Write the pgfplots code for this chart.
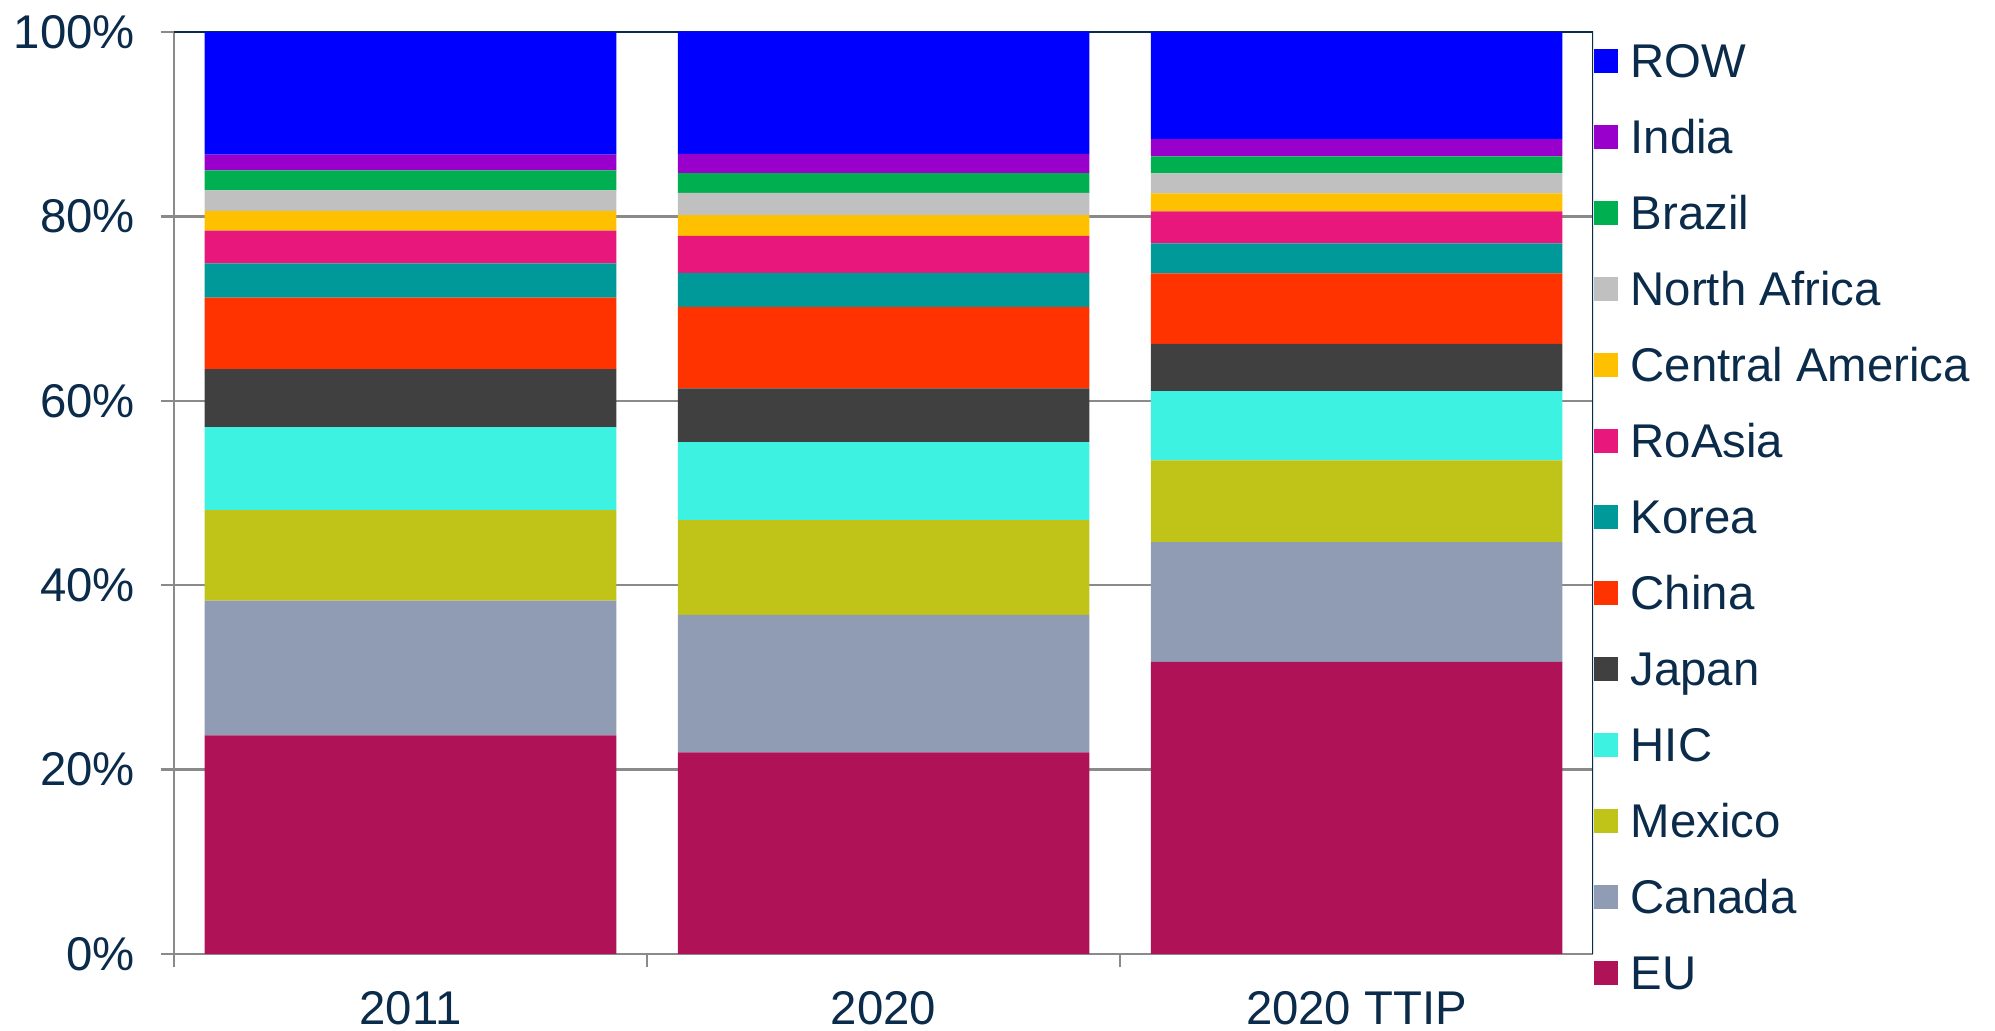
\documentclass[border=0pt]{standalone}
\usepackage{fontspec}
\setmainfont{Liberation Sans}
\usepackage{pgfplots}
\pgfplotsset{compat=1.18}
\definecolor{navy}{HTML}{0B2B4B}
\definecolor{axgray}{HTML}{8A8A8A}
\definecolor{cEU}{HTML}{B01258}
\definecolor{cCanada}{HTML}{8F9CB3}
\definecolor{cMexico}{HTML}{C0C418}
\definecolor{cHIC}{HTML}{3DF2E0}
\definecolor{cJapan}{HTML}{404040}
\definecolor{cChina}{HTML}{FF3300}
\definecolor{cKorea}{HTML}{009999}
\definecolor{cRoAsia}{HTML}{E8177C}
\definecolor{cCA}{HTML}{FFC000}
\definecolor{cNA}{HTML}{C0C0C0}
\definecolor{cBrazil}{HTML}{00B050}
\definecolor{cIndia}{HTML}{9900CC}
\definecolor{cROW}{HTML}{0000FF}
\begin{document}
\begin{tikzpicture}
\path[use as bounding box] (0,0) rectangle (598.5pt,309.3pt);
\begin{axis}[
  axis on top=false,
  at={(52.2pt,23.1pt)}, anchor=south west,
  scale only axis, width=425.7pt, height=276.6pt,
  ybar stacked, bar width=0.87,
  xmin=-0.5, xmax=2.5, ymin=0, ymax=100,
  xtick={0,1,2}, xticklabels={2011,2020,2020 TTIP},
  minor xtick={-0.5,0.5,1.5},
  major x tick style={draw=none},
  ytick={0,20,40,60,80,100},
  yticklabels={0\%,20\%,40\%,60\%,80\%,100\%},
  axis lines=left, axis line style={-, draw=axgray, line width=0.7pt},
  tick align=outside, major tick length=4pt, minor tick length=4pt,
  tick style={draw=axgray, line width=0.7pt},
  ymajorgrids, grid style={draw=axgray, line width=0.7pt},
  ticklabel style={font=\fontsize{14.2}{17}\selectfont, text=navy},
  yticklabel style={xshift=-4.2pt},
  xticklabel style={yshift=-3.6pt},
  legend style={at={(1,1)}, anchor=north west, yshift=-3.3pt, draw=none, fill=none,
    inner sep=0pt, font=\fontsize{14.2}{17}\selectfont, text=navy,
    column sep=3.9pt, row sep=9.8pt,
    nodes={inner sep=0pt, text height=10.2pt, text depth=2.8pt}},
  legend cell align=left, reverse legend,
  legend image code/.code={\fill[#1, draw=none] (0pt,-2.2pt) rectangle (7.2pt,5.0pt);},
]
\addplot[fill=cEU, draw=none] coordinates {(0,23.71) (1,21.86) (2,31.67)};
\addplot[fill=cCanada, draw=none] coordinates {(0,14.62) (1,14.91) (2,12.99)};
\addplot[fill=cMexico, draw=none] coordinates {(0,9.81) (1,10.28) (2,8.88)};
\addplot[fill=cHIC, draw=none] coordinates {(0,9.01) (1,8.47) (2,7.51)};
\addplot[fill=cJapan, draw=none] coordinates {(0,6.28) (1,5.82) (2,5.12)};
\addplot[fill=cChina, draw=none] coordinates {(0,7.76) (1,8.84) (2,7.66)};
\addplot[fill=cKorea, draw=none] coordinates {(0,3.72) (1,3.68) (2,3.25)};
\addplot[fill=cRoAsia, draw=none] coordinates {(0,3.54) (1,4.03) (2,3.46)};
\addplot[fill=cCA, draw=none] coordinates {(0,2.16) (1,2.24) (2,1.95)};
\addplot[fill=cNA, draw=none] coordinates {(0,2.21) (1,2.42) (2,2.17)};
\addplot[fill=cBrazil, draw=none] coordinates {(0,2.16) (1,2.13) (2,1.84)};
\addplot[fill=cIndia, draw=none] coordinates {(0,1.73) (1,2.09) (2,1.88)};
\addplot[fill=cROW, draw=none] coordinates {(0,13.29) (1,13.29) (2,11.62)};
\legend{EU,Canada,Mexico,HIC,Japan,China,Korea,RoAsia,Central America,North Africa,Brazil,India,ROW}
\draw[navy, line width=0.7pt] (rel axis cs:0,1) -- (rel axis cs:1,1) -- (rel axis cs:1,0);
\end{axis}
\end{tikzpicture}
\end{document}
